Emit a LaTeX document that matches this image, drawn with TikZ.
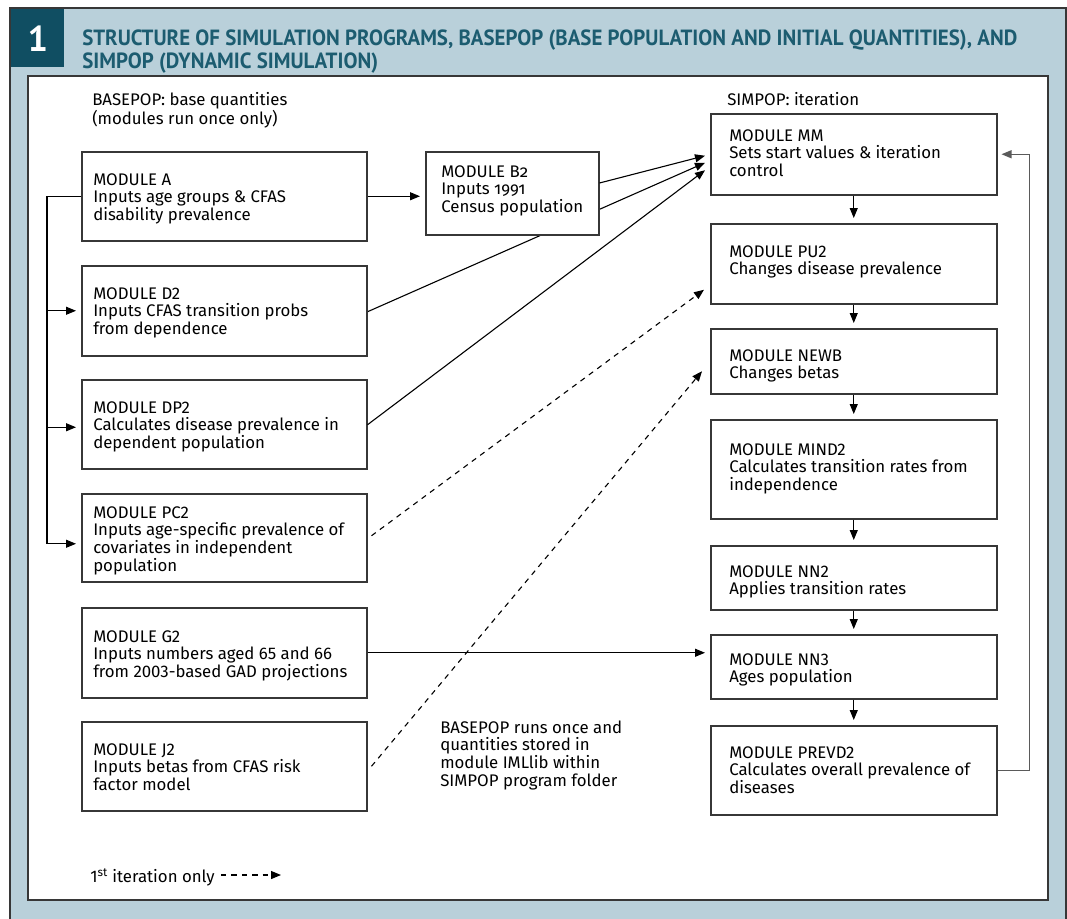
\documentclass[tikz,border=0pt]{standalone}
\usepackage{fontspec}
\usepackage{graphicx}
\setmainfont{Fira Sans}
\newfontfamily\titlefont{PT Sans}
\usetikzlibrary{arrows.meta,calc}
\newlength\pxu \setlength\pxu{0.75pt}
\definecolor{panelblue}{RGB}{185,208,218}
\definecolor{numbox}{RGB}{16,78,98}
\definecolor{titlecol}{RGB}{28,92,112}
\definecolor{framecol}{RGB}{55,55,55}
\definecolor{fbgray}{RGB}{90,90,90}
\newcommand\bfnt{\fontsize{12.6}{13.3}\selectfont}
\newcommand\mt[1]{\parbox[t]{300\pxu}{\bfnt\raggedright #1}}
\pgfdeclarelayer{bg}
\pgfdeclarelayer{mid}
\pgfsetlayers{bg,mid,main}
\begin{document}
\begin{tikzpicture}[x=0.75pt,y=-0.75pt,
  box/.style={draw=framecol, line width=1.5\pxu, fill=white, anchor=north west, inner sep=0pt},
  lbox/.style={box, minimum width=285\pxu},
  rbox/.style={box, minimum width=286\pxu},
  txt/.style={anchor=base west, inner sep=0pt},
  ln/.style={line width=1.1\pxu, draw=black},
  arr/.style={ln, -{Triangle[length=7.5pt,width=6pt]}},
  dsh/.style={dash pattern=on 4pt off 3.8pt}]
\useasboundingbox (0,0) rectangle (1067,918);
\clip (0,0) rectangle (1067,918);
\begin{pgfonlayer}{bg}
\fill[white] (0,0) rectangle (1067,918);
\draw[draw=framecol, line width=1.5\pxu, fill=panelblue] (10,8) rectangle (1066,940);
\draw[draw=framecol, line width=2\pxu, fill=white] (28,76) rectangle (1048,900);
\end{pgfonlayer}
\node[fill=numbox, anchor=north west, minimum width=53\pxu, minimum height=58\pxu, inner sep=0pt, text=white, font=\titlefont\bfseries\fontsize{27}{27}\selectfont] (num) at (11,9) {1};
\node[txt, text=titlecol] (title) at (82,45) {\resizebox{935\pxu}{\height}{\titlefont\bfseries\fontsize{16.5}{17.25}\selectfont\begin{tabular}[t]{@{}l@{}}STRUCTURE OF SIMULATION PROGRAMS, BASEPOP (BASE POPULATION AND INITIAL QUANTITIES), AND\\SIMPOP (DYNAMIC SIMULATION)\end{tabular}}};
% labels
\node[txt] (lbase) at (92,105) {\mt{BASEPOP: base quantities\\(modules run once only)}};
\node[txt] (lsim) at (727,105) {\mt{SIMPOP: iteration}};
\node[txt] (lnote) at (440,733) {\mt{BASEPOP runs once and\\quantities stored in\\module IMLlib within\\SIMPOP program folder}};
% left boxes
\node[lbox, minimum height=89\pxu] (A) at (81,151) {};
\node[lbox, minimum height=90\pxu] (D2) at (81,265) {};
\node[lbox, minimum height=89\pxu] (DP2) at (81,379) {};
\node[lbox, minimum height=88\pxu] (PC2) at (81,493) {};
\node[lbox, minimum height=90\pxu] (G2) at (81,607) {};
\node[lbox, minimum height=89\pxu] (J2) at (81,721) {};
\node[box, minimum width=173\pxu, minimum height=83\pxu] (B2) at (425,151) {};
% right boxes
\node[rbox, minimum height=81\pxu] (MM) at (710,113) {};
\node[rbox, minimum height=80\pxu] (PU2) at (710,223) {};
\node[rbox, minimum height=65\pxu] (NEWB) at (710,328) {};
\node[rbox, minimum height=99\pxu] (MIND2) at (710,419) {};
\node[rbox, minimum height=64\pxu] (NN2) at (710,545) {};
\node[rbox, minimum height=64\pxu] (NN3) at (710,634) {};
\node[rbox, minimum height=89\pxu] (PREVD2) at (710,725) {};
% texts
\node[txt] (At) at (93,185) {\mt{MODULE A\\Inputs age groups \& CFAS\\disability prevalence}};
\node[txt] (D2t) at (93,299) {\mt{MODULE D2\\Inputs CFAS transition probs\\from dependence}};
\node[txt] (DP2t) at (93,413) {\mt{MODULE DP2\\Calculates disease prevalence in\\dependent population}};
\node[txt] (PC2t) at (93,518) {\mt{MODULE PC2\\Inputs age-specific prevalence of\\covariates in independent\\population}};
\node[txt] (G2t) at (93,642) {\mt{MODULE G2\\Inputs numbers aged 65 and 66\\from 2003-based GAD projections}};
\node[txt] (J2t) at (93,755) {\mt{MODULE J2\\Inputs betas from CFAS risk\\factor model}};
\node[txt] (B2t) at (441,177) {\mt{\addfontfeatures{Numbers=OldStyle}MODULE B2\\Inputs 1991\\Census population}};
\node[txt] (MMt) at (729,141) {\mt{MODULE MM\\Sets start values \& iteration\\control}};
\node[txt] (PU2t) at (729,257) {\mt{MODULE PU2\\Changes disease prevalence}};
\node[txt] (NEWBt) at (729,361) {\mt{MODULE NEWB\\Changes betas}};
\node[txt] (MIND2t) at (729,455) {\mt{MODULE MIND2\\Calculates transition rates from\\independence}};
\node[txt] (NN2t) at (729,577) {\mt{MODULE NN2\\Applies transition rates}};
\node[txt] (NN3t) at (729,665) {\mt{MODULE NN3\\Ages population}};
\node[txt] (PREVD2t) at (729,758) {\mt{MODULE PREVD2\\Calculates overall prevalence of\\diseases}};
% legend
\node[txt] (leg) at (90,882) {\bfnt 1\textsuperscript{st} iteration only};
\coordinate (l1) at (221,875);
\coordinate (l2) at (281,875);
\draw[arr, dsh] (l1) -- (l2);
% connectors
\draw[arr, shorten >=5\pxu] (A.east) -- (A.east -| B2.west);
\coordinate (bus) at ($(A.west)+(-34,0)$);
\draw[arr, shorten >=5\pxu] (A.west) -- (bus) |- ($(PC2.west)+(0,6)$);
\draw[arr, shorten >=5\pxu] (bus |- D2.west) -- (D2.west);
\draw[arr, shorten >=5\pxu] ($(bus |- DP2.west)+(0,3)$) -- ($(DP2.west)+(0,3)$);
\draw[arr] ($(B2.north east)+(0,32)$) -- ($(MM.west)+(-5,1.5)$);
\begin{pgfonlayer}{mid}
\draw[arr] ($(D2.east)+(0,1)$) -- ($(MM.west)+(-5,8.5)$);
\end{pgfonlayer}
\draw[arr] ($(DP2.east)+(0,0.5)$) -- ($(MM.west)+(-5,16)$);
\draw[arr, dsh] ($(PC2.east)+(4,-2)$) -- ($(PU2.west)+(-6,26)$);
\draw[arr, dsh] ($(J2.east)+(4,0)$) -- ($(NEWB.west)+(-8,10)$);
\draw[arr, shorten >=5\pxu] (G2.east) -- (G2.east -| NN3.west);
\foreach \a/\b in {MM/PU2, PU2/NEWB, NEWB/MIND2, MIND2/NN2, NN2/NN3, NN3/PREVD2}
  \draw[arr, shorten >=5\pxu] (\a.south) -- (\b.north);
\draw[arr, draw=fbgray, shorten >=4\pxu] (PREVD2.east) -- ++(32,0) |- (MM.east);
\end{tikzpicture}
\end{document}
